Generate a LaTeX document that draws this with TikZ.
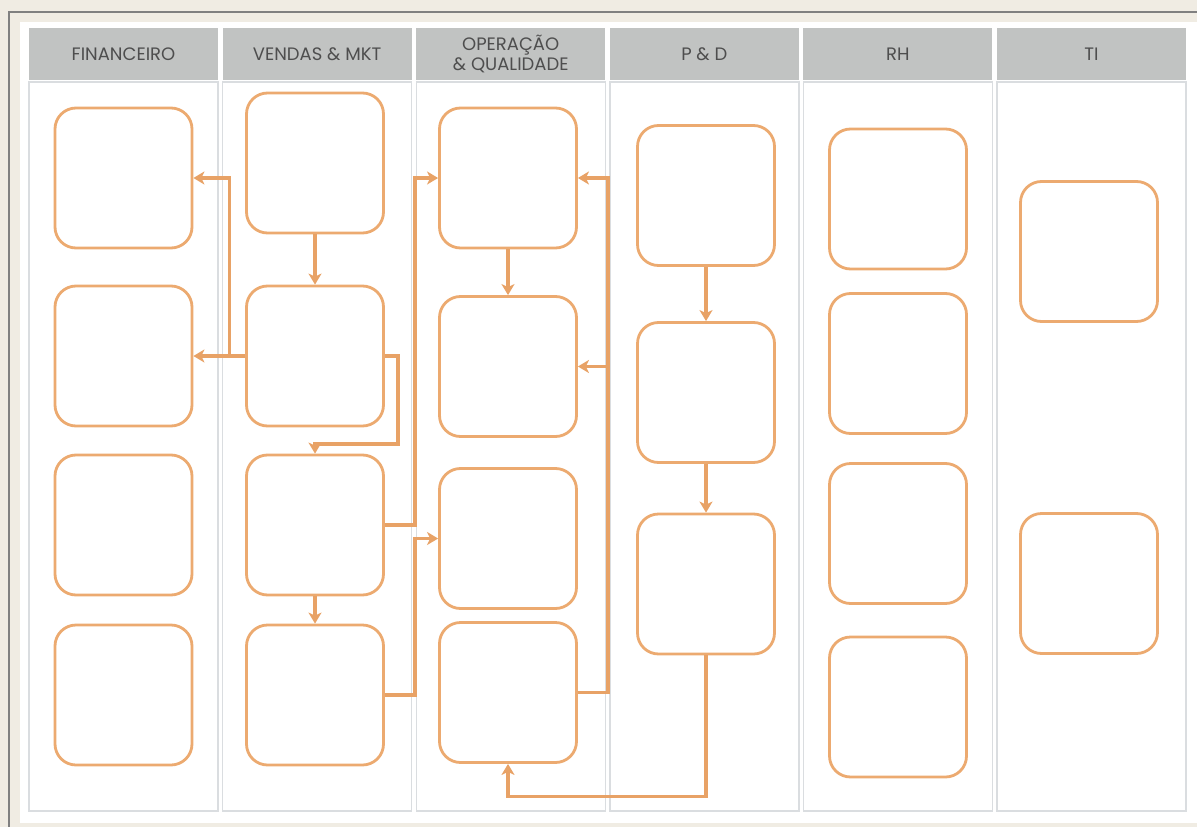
\documentclass[tikz,border=0pt]{standalone}
\usepackage{fontspec}
\setmainfont{Poppins}
\usetikzlibrary{arrows.meta, positioning, calc}
\definecolor{flowor}{RGB}{232,162,102}
\definecolor{boxor}{RGB}{236,170,112}
\definecolor{headgray}{RGB}{193,195,194}
\definecolor{lanegray}{RGB}{218,221,224}
\definecolor{paper}{RGB}{240,236,227}
\definecolor{framegray}{RGB}{128,128,128}
\definecolor{headtext}{RGB}{78,78,78}

\begin{document}
\begin{tikzpicture}[x=1pt, y=-1pt,
  lanehead/.style={fill=headgray, minimum width=189pt, minimum height=52pt, inner sep=0pt, align=center, text=headtext, font=\fontsize{18}{20}\selectfont},
  lanebody/.style={draw=lanegray, line width=1.4pt, fill=white, minimum width=189pt, minimum height=729pt, inner sep=0pt},
  stepbox/.style={draw=boxor, line width=2.8pt, fill=white, rounded corners=21pt, minimum width=137pt, minimum height=140pt, inner sep=0pt},
  flow/.style={draw=flowor, line width=3.2pt, -{Stealth[length=11pt,width=13pt,inset=3pt]}}
]
  \useasboundingbox (0,0) rectangle (1197,827);
  % page and frame
  \fill[paper] (0,0) rectangle (1197,827);
  \draw[framegray, line width=2pt] (9,827) -- (9,12) -- (1197,12);
  \fill[white] (20,22) rectangle (1197,823);

  % swim lanes
  \foreach \lbl [count=\i from 0] in {FINANCEIRO, VENDAS \& MKT, {OPERAÇÃO\\\& QUALIDADE}, P \& D, RH, TI} {
    \node[lanebody] (body\i) at (123.5+193.6*\i, 446.5) {};
    \node[lanehead] (head\i) at (123.5+193.6*\i, 54) {\lbl};
  }

  % financeiro
  \node[stepbox] (fin1) at (123.5,178) {};
  \node[stepbox] (fin2) at (123.5,356) {};
  \node[stepbox] (fin3) at (123.5,525) {};
  \node[stepbox] (fin4) at (123.5,695) {};
  % vendas & mkt
  \node[stepbox] (ven1) at (315,163) {};
  \node[stepbox] (ven2) at (315,356) {};
  \node[stepbox] (ven3) at (315,525) {};
  \node[stepbox] (ven4) at (315,695) {};
  % operacao & qualidade
  \node[stepbox] (ope1) at (508,178) {};
  \node[stepbox] (ope2) at (508,366.5) {};
  \node[stepbox] (ope3) at (508,538.5) {};
  \node[stepbox] (ope4) at (508,692.5) {};
  % p & d
  \node[stepbox] (ped1) at (706,195.5) {};
  \node[stepbox] (ped2) at (706,392.5) {};
  \node[stepbox] (ped3) at (706,584) {};
  % rh
  \node[stepbox] (rh1) at (898,199) {};
  \node[stepbox] (rh2) at (898,363.5) {};
  \node[stepbox] (rh3) at (898,533.5) {};
  \node[stepbox] (rh4) at (898,707) {};
  % ti
  \node[stepbox] (ti1) at (1089,251.5) {};
  \node[stepbox] (ti2) at (1089,583.5) {};

  % flows
  \coordinate (vturn) at (398,444);
  \draw[flow] (ven1.south) -- (ven2.north);
  \draw[flow] (ven2.west) -- (fin2.east);
  \draw[flow] (ven2.west) -- ++(-16,0) |- (fin1.east);
  \draw[flow] (ven2.east) -| (vturn) -| (ven3.north);
  \draw[flow] (ven3.south) -- (ven4.north);
  \draw[flow] (ven3.east) -- ++(30,0) |- (ope1.west);
  \draw[flow] (ven4.east) -- ++(30,0) |- (ope3.west);
  \draw[flow] (ope1.south) -- (ope2.north);
  \draw[flow] (ope4.east) -- ++(30,0) |- (ope1.east);
  \draw[flow] (ope4.east) -- ++(30,0) |- (ope2.east);
  \draw[flow] (ped1.south) -- (ped2.north);
  \draw[flow] (ped2.south) -- (ped3.north);
  \draw[flow] (ped3.south) -- ++(0,141) -| (ope4.south);
\end{tikzpicture}
\end{document}
